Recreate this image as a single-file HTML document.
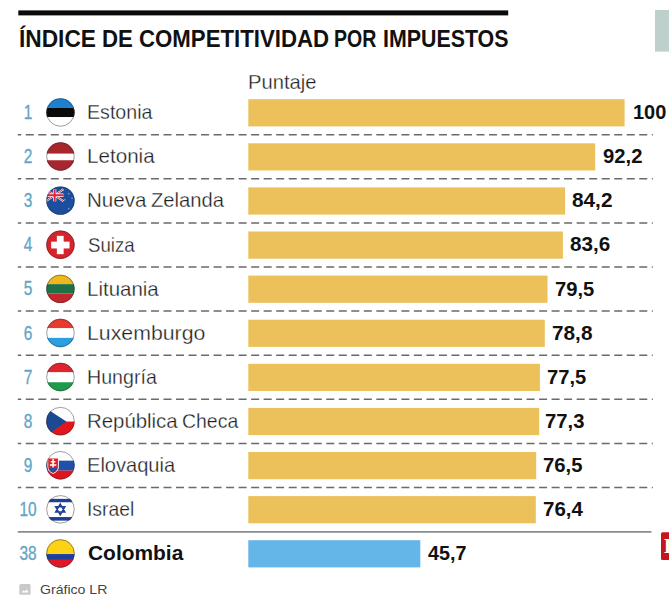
<!DOCTYPE html>
<html lang="es">
<head>
<meta charset="utf-8">
<title>Índice de competitividad por impuestos</title>
<style>
html,body{margin:0;padding:0;background:#fff}
body{width:669px;height:602px;position:relative;overflow:hidden;font-family:"Liberation Sans",sans-serif;color:#222}
.a{position:absolute}
.t{position:absolute;white-space:nowrap;line-height:1;transform-origin:0 0;margin:0;padding:0}
h1{margin:0;font-size:23.5px;font-weight:bold;color:#111}
h1 span{top:27.91px}
.hd{font-size:21.0px;color:#1e1e1e;-webkit-text-stroke:0.3px #fff}
.rk{font-size:20.6px;color:#64a6c5;-webkit-text-stroke:0.35px #64a6c5;width:40px;text-align:center;transform-origin:50% 0;transform:scaleX(0.75);left:8.30px}
.nm{font-size:21.0px;color:#1e1e1e;-webkit-text-stroke:0.3px #fff}
.nm.b{font-weight:bold;color:#111;-webkit-text-stroke:0}
.vl{font-size:19.5px;font-weight:bold;color:#111}
.logo{left:663.9px;top:535.7px;font-family:"Liberation Serif",serif;font-weight:bold;font-size:20px;color:#fff}
.ft{font-size:12.4px;color:#444}
</style>
</head>
<body>
<svg class="a" style="left:0;top:0" width="669" height="602" viewBox="0 0 669 602"><defs><clipPath id="fc"><circle r="14.2"/></clipPath></defs><rect x="18.3" y="10.4" width="489.9" height="5" fill="#0a0a0a"/><rect x="655" y="10" width="14" height="41.6" fill="#bdd0cc"/><rect x="248.3" y="99.20" width="376.3" height="27.2" fill="#ecc05a"/>
<rect x="248.3" y="143.30" width="346.9" height="27.2" fill="#ecc05a"/>
<rect x="248.3" y="187.40" width="316.8" height="27.2" fill="#ecc05a"/>
<rect x="248.3" y="231.50" width="314.6" height="27.2" fill="#ecc05a"/>
<rect x="248.3" y="275.60" width="299.2" height="27.2" fill="#ecc05a"/>
<rect x="248.3" y="319.70" width="296.5" height="27.2" fill="#ecc05a"/>
<rect x="248.3" y="363.80" width="291.6" height="27.2" fill="#ecc05a"/>
<rect x="248.3" y="407.90" width="290.9" height="27.2" fill="#ecc05a"/>
<rect x="248.3" y="452.00" width="287.9" height="27.2" fill="#ecc05a"/>
<rect x="248.3" y="496.10" width="287.5" height="27.2" fill="#ecc05a"/>
<rect x="248.3" y="540.20" width="172.0" height="27.2" fill="#64b6e8"/>
<line x1="17.8" x2="652.8" y1="134.70" y2="134.70" stroke="#696a6c" stroke-width="1.5" stroke-dasharray="8 4.52" stroke-dashoffset="4.54"/>
<line x1="17.8" x2="652.8" y1="178.80" y2="178.80" stroke="#696a6c" stroke-width="1.5" stroke-dasharray="8 4.52" stroke-dashoffset="4.54"/>
<line x1="17.8" x2="652.8" y1="222.90" y2="222.90" stroke="#696a6c" stroke-width="1.5" stroke-dasharray="8 4.52" stroke-dashoffset="4.54"/>
<line x1="17.8" x2="652.8" y1="267.00" y2="267.00" stroke="#696a6c" stroke-width="1.5" stroke-dasharray="8 4.52" stroke-dashoffset="4.54"/>
<line x1="17.8" x2="652.8" y1="311.10" y2="311.10" stroke="#696a6c" stroke-width="1.5" stroke-dasharray="8 4.52" stroke-dashoffset="4.54"/>
<line x1="17.8" x2="652.8" y1="355.20" y2="355.20" stroke="#696a6c" stroke-width="1.5" stroke-dasharray="8 4.52" stroke-dashoffset="4.54"/>
<line x1="17.8" x2="652.8" y1="399.30" y2="399.30" stroke="#696a6c" stroke-width="1.5" stroke-dasharray="8 4.52" stroke-dashoffset="4.54"/>
<line x1="17.8" x2="652.8" y1="443.40" y2="443.40" stroke="#696a6c" stroke-width="1.5" stroke-dasharray="8 4.52" stroke-dashoffset="4.54"/>
<line x1="17.8" x2="652.8" y1="487.50" y2="487.50" stroke="#696a6c" stroke-width="1.5" stroke-dasharray="8 4.52" stroke-dashoffset="4.54"/>
<line x1="17.8" x2="651.4" y1="531.90" y2="531.90" stroke="#8a8b8d" stroke-width="1.8"/>
<g transform="translate(60.45,112.45)"><g clip-path="url(#fc)"><rect x="-15" y="-15" width="30" height="10.40" fill="#1f80d2"/><rect x="-15" y="-4.60" width="30" height="9.30" fill="#0a0a0a"/><rect x="-15" y="4.70" width="30" height="10.30" fill="#ffffff"/></g><circle r="13.799999999999999" fill="none" stroke="#333" stroke-opacity="0.6" stroke-width="0.8"/></g>
<g transform="translate(60.45,156.55)"><g clip-path="url(#fc)"><rect x="-15" y="-15" width="30" height="12.20" fill="#a8262e"/><rect x="-15" y="-2.80" width="30" height="6.50" fill="#ffffff"/><rect x="-15" y="3.70" width="30" height="11.30" fill="#a8262e"/></g><circle r="13.799999999999999" fill="none" stroke="#333" stroke-opacity="0.6" stroke-width="0.8"/></g>
<g transform="translate(60.45,200.65)"><g clip-path="url(#fc)"><rect x="-15" y="-15" width="30" height="30" fill="#1b4f9e"/><g transform="translate(-14.6,-11.4)"><path d="M0 0 L17.6 12 M17.6 0 L0 12" stroke="#fff" stroke-width="2.1"/><path d="M0 0 L17.6 12 M17.6 0 L0 12" stroke="#d8232a" stroke-width="0.9"/><path d="M8.8 0 V12 M0 6 H17.6" stroke="#fff" stroke-width="3.3"/><path d="M8.8 0 V12 M0 6 H17.6" stroke="#e01f3a" stroke-width="2"/></g><g fill="#6f95cf"><circle cx="8.3" cy="-7" r="0.85"/><circle cx="4.3" cy="-1" r="0.85"/><circle cx="11.6" cy="-2.6" r="0.85"/><circle cx="8.3" cy="8" r="0.85"/></g></g><circle r="13.799999999999999" fill="none" stroke="#333" stroke-opacity="0.6" stroke-width="0.8"/></g>
<g transform="translate(60.45,244.75)"><g clip-path="url(#fc)"><rect x="-15" y="-15" width="30" height="30" fill="#d3252b"/><rect x="-9.3" y="-3.1" width="18.4" height="6.8" fill="#fff"/><rect x="-3.6" y="-8.9" width="6.8" height="18.3" fill="#fff"/></g><circle r="13.799999999999999" fill="none" stroke="#333" stroke-opacity="0.6" stroke-width="0.8"/></g>
<g transform="translate(60.45,288.85)"><g clip-path="url(#fc)"><rect x="-15" y="-15" width="30" height="10.30" fill="#eeb81c"/><rect x="-15" y="-4.70" width="30" height="9.40" fill="#1f7044"/><rect x="-15" y="4.70" width="30" height="10.30" fill="#c2272d"/></g><circle r="13.799999999999999" fill="none" stroke="#333" stroke-opacity="0.6" stroke-width="0.8"/></g>
<g transform="translate(60.45,332.95)"><g clip-path="url(#fc)"><rect x="-15" y="-15" width="30" height="10.30" fill="#ea3a2e"/><rect x="-15" y="-4.70" width="30" height="9.60" fill="#ffffff"/><rect x="-15" y="4.90" width="30" height="10.10" fill="#2d9fe0"/></g><circle r="13.799999999999999" fill="none" stroke="#333" stroke-opacity="0.6" stroke-width="0.8"/></g>
<g transform="translate(60.45,377.05)"><g clip-path="url(#fc)"><rect x="-15" y="-15" width="30" height="10.30" fill="#e0242b"/><rect x="-15" y="-4.70" width="30" height="9.90" fill="#ffffff"/><rect x="-15" y="5.20" width="30" height="9.80" fill="#1e9a4b"/></g><circle r="13.799999999999999" fill="none" stroke="#333" stroke-opacity="0.6" stroke-width="0.8"/></g>
<g transform="translate(60.45,421.15)"><g clip-path="url(#fc)"><rect x="-15" y="-15" width="30" height="15.4" fill="#fff"/><rect x="-15" y="0.4" width="30" height="15" fill="#e2161c"/><path d="M-20.3 -16.6 L5.9 0.4 L-20.3 18.9Z" fill="#1c4a92"/></g><circle r="13.799999999999999" fill="none" stroke="#333" stroke-opacity="0.6" stroke-width="0.8"/></g>
<g transform="translate(60.45,465.25)"><g clip-path="url(#fc)"><rect x="-15" y="-15" width="30" height="10.4" fill="#fff"/><rect x="-15" y="-4.6" width="30" height="10" fill="#2050a8"/><rect x="-15" y="5.4" width="30" height="10" fill="#e0161c"/><path d="M-12.7 -7.2 H-2 V1.5 C-2 5 -4.5 7.2 -7.35 8.2 C-10.2 7.2 -12.7 5 -12.7 1.5Z" fill="#d8232a" stroke="#fff" stroke-width="0.9"/><path d="M-11.6 3.6 C-10 2.2 -8.6 2.6 -7.35 1.6 C-6.1 2.6 -4.7 2.2 -3.1 3.6 C-4 5.6 -5.6 6.8 -7.35 7.5 C-9.1 6.8 -10.7 5.6 -11.6 3.6Z" fill="#2050a8"/><path d="M-7.35 -6.2 V2.2 M-9.6 -3.6 H-5.1 M-10.6 -0.2 H-4.1" stroke="#fff" stroke-width="1.5" fill="none"/></g><circle r="13.799999999999999" fill="none" stroke="#333" stroke-opacity="0.6" stroke-width="0.8"/></g>
<g transform="translate(60.45,509.35)"><g clip-path="url(#fc)"><rect x="-15" y="-15" width="30" height="30" fill="#fff"/><rect x="-15" y="-10.5" width="30" height="3.4" fill="#1f3f94"/><rect x="-15" y="7.7" width="30" height="3.6" fill="#1f3f94"/><path d="M-0.2 -5.3 L4.4 2.7 H-4.8Z M-0.2 5.5 L4.4 -2.5 H-4.8Z" fill="none" stroke="#1f3f94" stroke-width="1.5" stroke-linejoin="miter"/></g><circle r="13.799999999999999" fill="none" stroke="#333" stroke-opacity="0.6" stroke-width="0.8"/></g>
<g transform="translate(60.45,553.45)"><g clip-path="url(#fc)"><rect x="-15" y="-15" width="30" height="15.60" fill="#fcd116"/><rect x="-15" y="0.60" width="30" height="5.90" fill="#1d3f9c"/><rect x="-15" y="6.50" width="30" height="8.50" fill="#e0162b"/></g><circle r="13.799999999999999" fill="none" stroke="#333" stroke-opacity="0.6" stroke-width="0.8"/></g><rect x="661" y="532.3" width="12" height="27.8" rx="1.5" fill="#c4161c"/><rect x="19.3" y="584" width="11.3" height="10.8" rx="1.6" fill="#c9c9c9"/><path d="M21.5 592.6 L23.6 590.2 L24.8 591.4 L26.7 589.2 L28.5 592.6Z" fill="#fff"/></svg>
<h1><span class="t" style="left:18.99px;transform:scaleX(0.9665)">ÍNDICE</span> <span class="t" style="left:101.96px;transform:scaleX(0.9461)">DE</span> <span class="t" style="left:138.65px;transform:scaleX(0.9456)">COMPETITIVIDAD</span> <span class="t" style="left:334.15px;transform:scaleX(0.8308)">POR</span> <span class="t" style="left:382.92px;transform:scaleX(0.9092)">IMPUESTOS</span></h1>
<div class="t hd" style="left:247.72px;top:70.72px;transform:scaleX(0.9620)">Puntaje</div>
<div class="t rk" style="top:102.06px">1</div>
<div class="t nm" style="left:87.16px;top:101.22px;transform:scaleX(0.9348)">Estonia</div>
<div class="t vl" style="left:632.52px;top:103.14px;transform:scaleX(1.0230)">100</div>
<div class="t rk" style="top:146.16px">2</div>
<div class="t nm" style="left:87.08px;top:145.32px;transform:scaleX(0.9818)">Letonia</div>
<div class="t vl" style="left:602.75px;top:147.24px;transform:scaleX(1.0384)">92,2</div>
<div class="t rk" style="top:190.26px">3</div>
<div class="nm"><span class="t" style="left:87.19px;top:189.42px;transform:scaleX(0.9780)">Nueva</span> <span class="t" style="left:151.30px;top:189.42px;transform:scaleX(0.9621)">Zelanda</span></div>
<div class="t vl" style="left:572.03px;top:191.34px;transform:scaleX(1.0658)">84,2</div>
<div class="t rk" style="top:234.36px">4</div>
<div class="t nm" style="left:87.91px;top:233.52px;transform:scaleX(0.8893)">Suiza</div>
<div class="t vl" style="left:569.54px;top:235.44px;transform:scaleX(1.0594)">83,6</div>
<div class="t rk" style="top:278.46px">5</div>
<div class="t nm" style="left:87.09px;top:277.62px;transform:scaleX(0.9756)">Lituania</div>
<div class="t vl" style="left:554.79px;top:279.54px;transform:scaleX(1.0356)">79,5</div>
<div class="t rk" style="top:322.56px">6</div>
<div class="t nm" style="left:87.03px;top:321.72px;transform:scaleX(1.0138)">Luxemburgo</div>
<div class="t vl" style="left:551.77px;top:323.64px;transform:scaleX(1.0658)">78,8</div>
<div class="t rk" style="top:366.66px">7</div>
<div class="t nm" style="left:87.17px;top:365.82px;transform:scaleX(0.9342)">Hungría</div>
<div class="t vl" style="left:547.20px;top:367.74px;transform:scaleX(1.0329)">77,5</div>
<div class="t rk" style="top:410.76px">8</div>
<div class="nm"><span class="t" style="left:87.20px;top:409.92px;transform:scaleX(0.9703)">República</span> <span class="t" style="left:181.86px;top:409.92px;transform:scaleX(0.9258)">Checa</span></div>
<div class="t vl" style="left:545.29px;top:411.84px;transform:scaleX(1.0392)">77,3</div>
<div class="t rk" style="top:454.86px">9</div>
<div class="t nm" style="left:87.13px;top:454.02px;transform:scaleX(0.9558)">Elovaquia</div>
<div class="t vl" style="left:542.59px;top:455.94px;transform:scaleX(1.0411)">76,5</div>
<div class="t rk" style="top:498.96px">10</div>
<div class="t nm" style="left:86.96px;top:498.12px;transform:scaleX(0.9188)">Israel</div>
<div class="t vl" style="left:542.58px;top:500.04px;transform:scaleX(1.0514)">76,4</div>
<div class="t rk" style="top:543.06px">38</div>
<div class="t nm b" style="left:87.53px;top:542.22px;transform:scaleX(0.9960)">Colombia</div>
<div class="t vl" style="left:427.55px;top:544.14px;transform:scaleX(1.0142)">45,7</div>
<div class="t logo">L</div>
<div class="t ft" style="left:40.19px;top:584.20px;transform:scaleX(1.1379)">Gráfico LR</div>
</body>
</html>
